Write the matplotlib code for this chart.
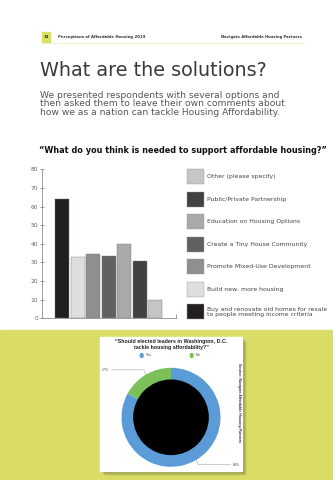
import matplotlib
matplotlib.use("Agg")
import matplotlib.pyplot as plt
from matplotlib.patches import Rectangle, Circle
import numpy as np

# survey responses (% of respondents), in bar order
options = [
    "Buy and renovate old homes for resale\nto people meeting income criteria",
    "Build new, more housing",
    "Promote Mixed-Use Development",
    "Create a Tiny House Community",
    "Education on Housing Options",
    "Public/Private Partnership",
    "Other (please specify)",
]
pct = [64, 33, 34.5, 33.5, 40, 31, 10]
bar_colors = ["#231f20", "#dedede", "#8f8f8f", "#616161", "#a9a9a9", "#404143", "#c6c6c6"]
y_ticks = [0, 10, 20, 30, 40, 50, 60, 70, 80]

# elected leaders question
answers = ["Yes", "No"]
answer_pct = [83, 17]
answer_colors = ["#5b9bd8", "#7cc05a"]

W, H = 333, 480
fig = plt.figure(figsize=(W / 100, H / 100), dpi=100)
fig.patch.set_facecolor("white")


def fx(x):
    return x / W


def fy(y):
    return 1 - y / H


# page header
fig.patches.append(Rectangle((fx(42), fy(42)), fx(8), 10 / H, color="#dadf66",
                             transform=fig.transFigure, zorder=1))
fig.text(fx(46), fy(37), "14", fontsize=2.8, fontweight="bold", color="#333",
         ha="center", va="center")
fig.text(fx(57.5), fy(37), "Perceptions of Affordable Housing 2019", fontsize=2.8,
         fontweight="bold", color="#333", va="center")
fig.text(fx(302), fy(37), "Navigate Affordable Housing Partners", fontsize=2.7,
         fontweight="bold", color="#333", va="center", ha="right")
fig.add_artist(plt.Line2D([fx(42), fx(303)], [fy(42.8), fy(42.8)], color="#eef0c8",
                          lw=0.6, transform=fig.transFigure))

# title and intro
fig.text(fx(40), fy(70.5), "What are the solutions?", fontsize=13.8, color="#3a3a3a",
         va="center")
intro = ("We presented respondents with several options and\n"
         "then asked them to leave their own comments about\n"
         "how we as a nation can tackle Housing Affordability.")
fig.text(fx(40.5), fy(104), intro, fontsize=6.55, color="#555555", va="center",
         linespacing=0.94)

fig.text(fx(182.5), fy(150.5), "\u201cWhat do you think is needed to support affordable housing?\u201d",
         fontsize=5.85, fontweight="bold", color="#111", ha="center", va="center")

# bar chart
x0, x1, ytop, ybot = 41.7, 175.6, 169.3, 318.3
ax = fig.add_axes([fx(x0), fy(ybot), (x1 - x0) / W, (ybot - ytop) / H])
pos = np.arange(len(pct))
ax.bar(pos, pct, width=0.92, color=bar_colors, edgecolor="#7a7a7a", linewidth=0.3)
ax.set_xlim(-1.32, 7.31)
ax.set_ylim(0, 80)
ax.set_yticks(y_ticks)
ax.tick_params(axis="y", labelsize=4.3, labelcolor="#666", color="#777", length=2.5,
               width=0.5, direction="inout", pad=1.5)
ax.set_xticks([7.31])
ax.set_xticklabels([""])
ax.tick_params(axis="x", direction="in", length=3, width=0.5, color="#777")
for s in ["top", "right"]:
    ax.spines[s].set_visible(False)
for s in ["left", "bottom"]:
    ax.spines[s].set_linewidth(0.5)
    ax.spines[s].set_color("#777")
ax.patch.set_alpha(0)

# legend, top entry = last bar
row0, row_gap = 176.7, 22.5
for i, (label, col) in enumerate(zip(options[::-1], bar_colors[::-1])):
    yc = row0 + i * row_gap
    fig.patches.append(Rectangle((fx(186.5), fy(yc + 7.5)), fx(17.5), 15 / H,
                                 facecolor=col, edgecolor="#9a9a9a", linewidth=0.3,
                                 transform=fig.transFigure))
    fig.text(fx(207), fy(yc), label, fontsize=4.4, color="#444", va="center",
             linespacing=1.1)

# yellow band and card
fig.patches.append(Rectangle((0, 0), 1, fy(330), color="#d9dd66",
                             transform=fig.transFigure, zorder=0))
cx0, cx1, cy0, cy1 = 100, 242, 336.7, 470.7
for k, a in [(5, 0.08), (4, 0.12), (3, 0.16), (2, 0.2)]:
    fig.patches.append(Rectangle((fx(cx0 + k), fy(cy1 + k)), (cx1 - cx0) / W,
                                 (cy1 - cy0) / H, color="#4a4a20", alpha=a,
                                 transform=fig.transFigure, zorder=0.5, lw=0))
fig.patches.append(Rectangle((fx(cx0), fy(cy1)), (cx1 - cx0) / W, (cy1 - cy0) / H,
                             color="white", transform=fig.transFigure, zorder=0.6))

fig.text(fx(171.5), fy(344.5),
         "\u201cShould elected leaders in Washington, D.C.\ntackle housing affordability?\u201d",
         fontsize=3.75, fontweight="bold", family="Liberation Sans", color="#222",
         ha="center", va="center", linespacing=1.15)
for lx, name, col in zip([141.7, 191.7], answers, answer_colors):
    fig.patches.append(Circle((fx(lx), fy(355.5)), 1.4 / W, color=col,
                              transform=fig.transFigure, zorder=2))
    fig.text(fx(lx + 4), fy(355.5), name, fontsize=2.6, family="Liberation Sans",
             color="#333", va="center")
fig.text(fx(239), fy(403), "Source: Navigate Affordable Housing Partners", fontsize=2.6,
         fontweight="bold", family="Liberation Sans", color="#333", rotation=270,
         ha="center", va="center")

# donut
pcx, pcy, r = 171, 417.3, 49.5
pax = fig.add_axes([fx(pcx - r), fy(pcy + r), 2 * r / W, 2 * r / H])
pax.set_zorder(2)
wedges, _ = pax.pie(answer_pct, colors=answer_colors, startangle=90, counterclock=False,
                    wedgeprops=dict(width=0.25, linewidth=0))
pax.add_patch(Circle((0, 0), 0.75, color="black"))
pax.set_xlim(-1, 1)
pax.set_ylim(-1, 1)
pax.set_aspect("auto")
pax.axis("off")

# leader lines and value labels
for w, v in zip(wedges, answer_pct):
    ang = np.deg2rad((w.theta1 + w.theta2) / 2)
    ex, ey = np.cos(ang), np.sin(ang)
    side = np.sign(ex)
    kx, ky = ex * 1.08, ey * 1.02 + (0.08 if ey > 0 else -0.08)
    tx = kx + side * 0.65
    pax.plot([ex, kx, tx], [ey, ky, ky], color="#999", lw=0.35, clip_on=False)
    pax.text(tx + side * 0.05, ky, f"{v}%", fontsize=2.6, family="Liberation Sans",
             color="#444", ha="left" if side > 0 else "right", va="center")

fig.savefig("out.png", dpi=100)
